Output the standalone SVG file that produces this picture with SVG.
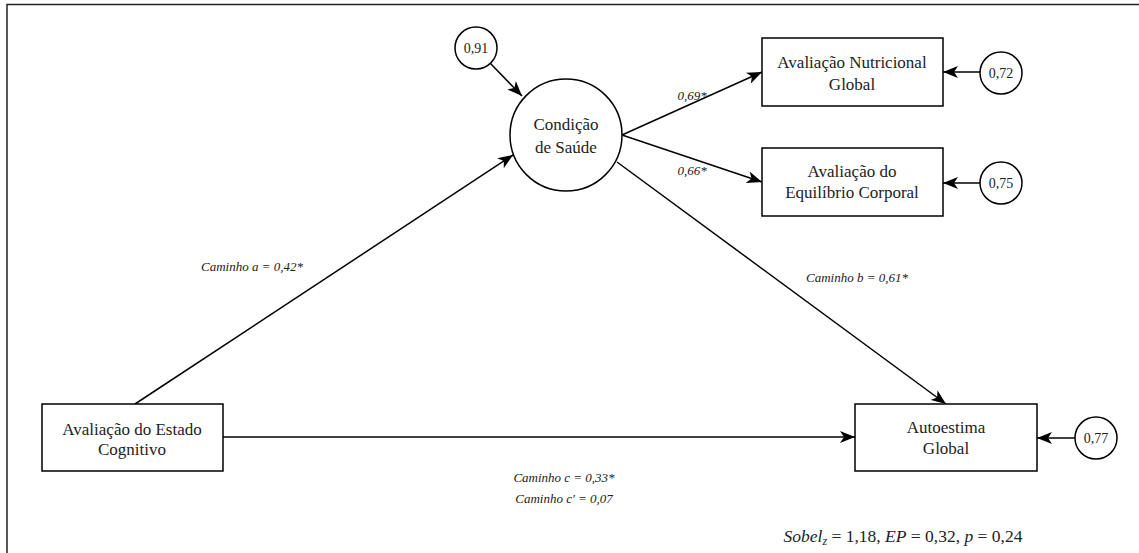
<svg xmlns="http://www.w3.org/2000/svg" width="1139" height="553" viewBox="0 0 1139 553">
<style>
text{font-family:"Liberation Serif","DejaVu Serif",serif;fill:#222;text-anchor:middle}
.n{fill:#fff;stroke:#000;stroke-width:1.5}
.t{font-size:17px}
.s{font-size:14px}
.l{font-size:13px;font-style:italic}
.c{stroke:#000;stroke-width:1.5;fill:none;marker-end:url(#ah)}
</style>
<defs>
<marker id="ah" markerUnits="userSpaceOnUse" markerWidth="16" markerHeight="12" refX="15" refY="6" orient="auto">
<path d="M0,0 L15,6 L0,12 L4,6 z" fill="#000"/>
</marker>
</defs>
<rect width="1139" height="553" fill="#fff"/>
<path d="M7,553 L7,4.5 L1139,4.5" fill="none" stroke="#222" stroke-width="1.5"/>
<g id="connectors">
<line class="c" x1="135" y1="404" x2="513" y2="155"/>
<line class="c" x1="223" y1="437" x2="855" y2="437"/>
<line class="c" x1="617" y1="162" x2="946" y2="404"/>
<line class="c" x1="622" y1="135" x2="762" y2="72"/>
<line class="c" x1="622" y1="135" x2="762" y2="182"/>
<line class="c" x1="490" y1="63" x2="522" y2="96"/>
<line class="c" x1="980" y1="72" x2="943" y2="72"/>
<line class="c" x1="980" y1="183" x2="943" y2="183"/>
<line class="c" x1="1075" y1="438" x2="1037" y2="438"/>
</g>
<g id="e91"><circle class="n" cx="476" cy="48" r="21"/><text class="s" x="476" y="53">0,91</text></g>
<g id="saude"><circle class="n" cx="566" cy="135" r="56"/><text class="t" x="566" y="130">Condição</text><text class="t" x="566" y="153">de Saúde</text></g>
<g id="nutricional"><rect class="n" x="762" y="38" width="181" height="68"/><text class="t" x="852" y="68">Avaliação Nutricional</text><text class="t" x="852" y="90">Global</text></g>
<g id="equilibrio"><rect class="n" x="762" y="148" width="181" height="68"/><text class="t" x="852" y="177">Avaliação do</text><text class="t" x="852" y="198">Equilíbrio Corporal</text></g>
<g id="e72"><circle class="n" cx="1001" cy="73" r="21"/><text class="s" x="1001" y="78">0,72</text></g>
<g id="e75"><circle class="n" cx="1001" cy="183" r="21"/><text class="s" x="1001" y="188">0,75</text></g>
<g id="cognitivo"><rect class="n" x="42" y="404" width="181" height="67"/><text class="t" x="132" y="435">Avaliação do Estado</text><text class="t" x="132" y="455">Cognitivo</text></g>
<g id="autoestima"><rect class="n" x="855" y="404" width="182" height="67"/><text class="t" x="946" y="433">Autoestima</text><text class="t" x="946" y="454">Global</text></g>
<g id="e77"><circle class="n" cx="1096" cy="438" r="21"/><text class="s" x="1096" y="443">0,77</text></g>
<g id="labels">
<text class="l" x="252" y="271">Caminho a = 0,42*</text>
<text class="l" x="692" y="100">0,69*</text>
<text class="l" x="692" y="175">0,66*</text>
<text class="l" x="857" y="282">Caminho b = 0,61*</text>
<text class="l" x="564" y="482">Caminho c = 0,33*</text>
<text class="l" x="564" y="503">Caminho c' = 0,07</text>
<text x="903" y="542" style="font-size:17.5px"><tspan font-style="italic">Sobel</tspan><tspan font-style="italic" font-size="12" dy="3">z</tspan><tspan dy="-3"> = 1,18, </tspan><tspan font-style="italic">EP</tspan> = 0,32, <tspan font-style="italic">p</tspan> = 0,24</text>
</g>
</svg>
